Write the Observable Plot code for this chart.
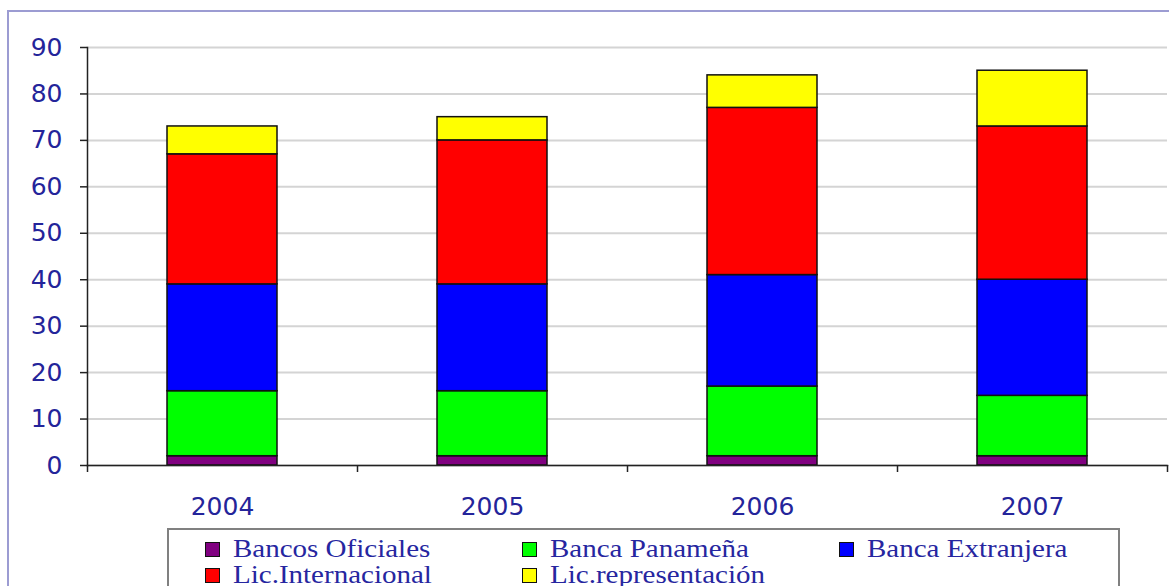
<!DOCTYPE html>
<html>
<head>
<meta charset="utf-8">
<script src="https://cdn.jsdelivr.net/npm/d3@7"></script>
<script src="https://cdn.jsdelivr.net/npm/@observablehq/plot@0.6"></script>
<style>
  html, body { margin: 0; padding: 0; background: #fff; }
  #wrap { position: relative; width: 1169px; height: 586px; overflow: hidden; background: #fff; }
  #chart { position: absolute; left: 0; top: 0; }
  #border { position: absolute; left: 7px; top: 10px; width: 1200px; height: 600px;
            border-left: 2px solid #9c9cd2; border-top: 2px solid #9c9cd2; pointer-events: none; }
  #legend { position: absolute; left: 167px; top: 528px; width: 949px; height: 70px;
            border: 2px solid #808080; background: #fff; }
  .item { position: absolute; height: 25px; }
  .sw { position: absolute; left: 0; top: 4px; width: 13px; height: 13px; border: 1.5px solid #111; }
  .lab { position: absolute; left: 28px; top: -1px; white-space: nowrap; font-family: "Liberation Serif", serif;
         font-size: 25px; line-height: 0.92; color: #2626a0; transform: scaleX(1.16); transform-origin: left center; }
</style>
</head>
<body>
<div id="wrap">
  <div id="chart"></div>
  <div id="border"></div>
  <div id="legend"></div>
</div>
<script>
const years = ["2004", "2005", "2006", "2007"];
const series = ["Bancos Oficiales", "Banca Panameña", "Banca Extranjera", "Lic.Internacional", "Lic.representación"];
const colors = ["#800080", "#00ff00", "#0000ff", "#ff0000", "#ffff00"];
const bancosOficiales   = [2, 2, 2, 2];
const bancaPanamena     = [14, 14, 15, 13];
const bancaExtranjera   = [23, 23, 24, 25];
const licInternacional  = [28, 31, 36, 33];
const licRepresentacion = [6, 5, 7, 12];
const yTicks = [0, 10, 20, 30, 40, 50, 60, 70, 80, 90];

const valuesBySeries = [bancosOficiales, bancaPanamena, bancaExtranjera, licInternacional, licRepresentacion];
const data = [];
series.forEach((s, si) => years.forEach((y, yi) => data.push({year: y, series: s, value: valuesBySeries[si][yi]})));

const W = 1169, H = 528, ML = 87, MR = 2, MT = 47, MB = 63;
const step = (W - ML - MR) / years.length;
const pInner = 0.593;
const navy = "#24249a";

const chart = Plot.plot({
  width: W, height: H,
  marginLeft: ML, marginRight: MR, marginTop: MT, marginBottom: MB,
  style: {fontFamily: "DejaVu Sans, sans-serif", fontSize: "25px", background: "#fff"},
  x: {domain: years, paddingInner: pInner, paddingOuter: pInner / 2, axis: null},
  y: {domain: [0, 90], axis: null},
  color: {domain: series, range: colors},
  marks: [
    Plot.gridY(yTicks, {stroke: "#d4d4d4", strokeOpacity: 1, strokeWidth: 2}),
    Plot.barY(data, Plot.stackY({x: "year", y: "value", fill: "series", stroke: "#111", strokeWidth: 1.5})),
    Plot.frame({anchor: "left", stroke: "#222", strokeWidth: 1.5}),
    Plot.frame({anchor: "bottom", stroke: "#222", strokeWidth: 1.5}),
    Plot.axisY({ticks: yTicks, tickSize: 7, tickPadding: 18, fill: navy, stroke: "#222", strokeWidth: 1.5, label: null}),
    Plot.axisX({tickSize: 0, tickPadding: 32, fill: navy, label: null}),
    Plot.axisX({tickSize: 7, text: null, dx: -step / 2, stroke: "#222", strokeWidth: 1.5, label: null}),
    Plot.axisX({ticks: [years[years.length - 1]], tickSize: 7, text: null, dx: step / 2, stroke: "#222", strokeWidth: 1.5, label: null})
  ]
});
document.getElementById("chart").appendChild(chart);

// legend (HTML, below the chart area)
const legend = document.getElementById("legend");
series.forEach((s, i) => {
  const col = i % 3, row = Math.floor(i / 3);
  const item = document.createElement("div");
  item.className = "item";
  item.style.left = (205 - 169 + col * 317) + "px";
  item.style.top = (8 + row * 26) + "px";
  const sw = document.createElement("div");
  sw.className = "sw";
  sw.style.background = colors[i];
  const lab = document.createElement("span");
  lab.className = "lab";
  lab.textContent = s;
  item.appendChild(sw);
  item.appendChild(lab);
  legend.appendChild(item);
});
</script>
</body>
</html>
